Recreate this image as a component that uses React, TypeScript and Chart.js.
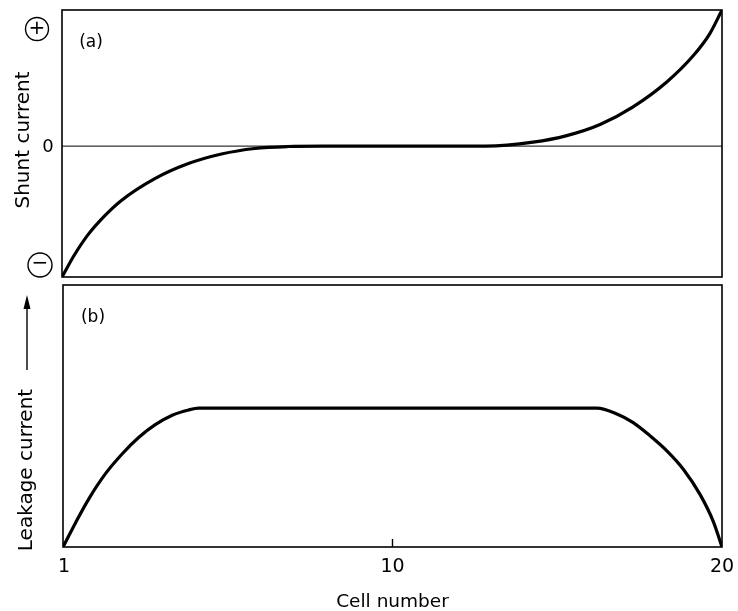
import React, { useEffect, useRef } from 'react';
import { Chart, registerables } from 'chart.js';

Chart.register(...registerables);

// Panel (a): shunt current vs cell number (schematic, -1 .. +1)
const shuntCells = [1, 1.36, 1.74, 2.22, 2.71, 3.66, 4.62, 5.59, 6.55, 7.5, 8.5, 13.2, 14.56, 15.53, 16.49, 17.44, 18.41, 19.17, 19.65, 20];
const shuntValues = [-1, -0.83, -0.68, -0.535, -0.415, -0.25, -0.135, -0.06, -0.018, -0.003, 0, 0, 0.03, 0.08, 0.165, 0.3, 0.49, 0.69, 0.86, 1.04];

// Panel (b): leakage current vs cell number (schematic, 0 .. 1)
const leakCells = [1, 1.36, 1.74, 2.22, 2.71, 3.18, 3.66, 4.15, 4.62, 4.91, 16.39, 16.97, 17.44, 17.92, 18.41, 18.89, 19.37, 19.75, 20];
const leakValues = [0, 0.092, 0.183, 0.279, 0.356, 0.418, 0.467, 0.503, 0.523, 0.53, 0.53, 0.508, 0.475, 0.425, 0.367, 0.296, 0.2, 0.097, 0];

// x axis ticks (the "10" sits at the middle of the schematic axis)
const xTickValues = [1, 10.5, 20];
const xTickLabels = ['1', '10', '20'];

const shuntSignLabels = ['+', '0', '−'];
const panelLabels = ['(a)', '(b)'];
const shuntTitle = 'Shunt current';
const leakTitle = 'Leakage current';
const xTitle = 'Cell number';

const FONT = '"DejaVu Sans", "Liberation Sans", sans-serif';

const panelAPlugin = {
  id: 'panelA',
  beforeDatasetsDraw(chart: any) {
    const { ctx, chartArea, scales } = chart;
    const y0 = scales.y.getPixelForValue(0);
    ctx.save();
    ctx.strokeStyle = '#000';
    ctx.lineWidth = 1;
    ctx.beginPath();
    ctx.moveTo(chartArea.left, y0);
    ctx.lineTo(chartArea.right, y0);
    ctx.stroke();
    ctx.restore();
  },
  afterDraw(chart: any) {
    const { ctx, chartArea, scales } = chart;
    ctx.save();
    ctx.strokeStyle = '#000';
    ctx.fillStyle = '#000';
    ctx.lineWidth = 1.6;
    ctx.strokeRect(chartArea.left, chartArea.top, chartArea.right - chartArea.left, chartArea.bottom - chartArea.top);

    // sign markers
    const yTop = scales.y.getPixelForValue(scales.y.max);
    const yZero = scales.y.getPixelForValue(0);
    const yBot = scales.y.getPixelForValue(scales.y.min);
    ctx.lineWidth = 1.4;
    ctx.beginPath();
    ctx.arc(37, yTop + 19, 11.5, 0, Math.PI * 2);
    ctx.stroke();
    ctx.beginPath();
    ctx.arc(40, yBot - 12, 12, 0, Math.PI * 2);
    ctx.stroke();
    ctx.textAlign = 'center';
    ctx.textBaseline = 'middle';
    ctx.font = `20px ${FONT}`;
    ctx.fillText(shuntSignLabels[0], 37, yTop + 19);
    ctx.fillText(shuntSignLabels[2], 40, yBot - 13);
    ctx.font = `18px ${FONT}`;
    ctx.fillText(shuntSignLabels[1], 48, yZero + 1);

    // panel label
    ctx.font = `17px ${FONT}`;
    ctx.fillText(panelLabels[0], 91, 43);

    // axis title
    ctx.save();
    ctx.translate(24, 140);
    ctx.rotate(-Math.PI / 2);
    ctx.font = `20px ${FONT}`;
    ctx.fillText(shuntTitle, 0, 0);
    ctx.restore();
    ctx.restore();
  },
};

const panelBPlugin = {
  id: 'panelB',
  afterDraw(chart: any) {
    const { ctx, chartArea, scales } = chart;
    ctx.save();
    ctx.strokeStyle = '#000';
    ctx.fillStyle = '#000';
    ctx.lineWidth = 1.6;
    ctx.strokeRect(chartArea.left, chartArea.top, chartArea.right - chartArea.left, chartArea.bottom - chartArea.top);

    ctx.textAlign = 'center';
    ctx.textBaseline = 'middle';
    ctx.font = `17px ${FONT}`;
    ctx.fillText(panelLabels[1], 93, chartArea.top + 33);

    // y title with arrow
    ctx.save();
    ctx.translate(27, 188);
    ctx.rotate(-Math.PI / 2);
    ctx.font = `20px ${FONT}`;
    ctx.fillText(leakTitle, 0, 0);
    ctx.restore();

    ctx.lineWidth = 1.4;
    ctx.beginPath();
    ctx.moveTo(27, 88);
    ctx.lineTo(27, 22);
    ctx.stroke();
    ctx.beginPath();
    ctx.moveTo(27, 13);
    ctx.lineTo(23.5, 27);
    ctx.lineTo(30.5, 27);
    ctx.closePath();
    ctx.fill();

    // x ticks
    ctx.textBaseline = 'alphabetic';
    ctx.font = `19px ${FONT}`;
    xTickValues.forEach((v, i) => {
      const px = scales.x.getPixelForValue(v);
      ctx.fillText(xTickLabels[i], px + (i === 0 ? 1 : 0), chartArea.bottom + 25);
      if (i > 0 && i < xTickValues.length - 1) {
        ctx.lineWidth = 1.4;
        ctx.beginPath();
        ctx.moveTo(px, chartArea.bottom);
        ctx.lineTo(px, chartArea.bottom - 8);
        ctx.stroke();
      }
    });
    ctx.font = `18.5px ${FONT}`;
    ctx.fillText(xTitle, (chartArea.left + chartArea.right) / 2, chartArea.bottom + 60);
    ctx.restore();
  },
};

function makeConfig(cells: number[], values: number[], yMin: number, yMax: number, padding: any, plugin: any): any {
  return {
    type: 'line',
    data: {
      datasets: [
        {
          data: cells.map((x, i) => ({ x, y: values[i] })),
          borderColor: '#000',
          borderWidth: 3.2,
          pointRadius: 0,
          fill: false,
          cubicInterpolationMode: 'monotone',
          borderCapStyle: 'round',
          borderJoinStyle: 'round',
        },
      ],
    },
    options: {
      responsive: false,
      animation: false,
      layout: { padding },
      scales: {
        x: { type: 'linear', min: 1, max: 20, display: false },
        y: { type: 'linear', min: yMin, max: yMax, display: false },
      },
      plugins: { legend: { display: false }, tooltip: { enabled: false } },
    },
    plugins: [plugin],
  };
}

export default function App() {
  const refA = useRef<HTMLCanvasElement>(null);
  const refB = useRef<HTMLCanvasElement>(null);

  useEffect(() => {
    const a = new Chart(refA.current as HTMLCanvasElement, makeConfig(shuntCells, shuntValues, -1, 1.04, { left: 62, right: 16, top: 10, bottom: 5 }, panelAPlugin));
    const b = new Chart(refB.current as HTMLCanvasElement, makeConfig(leakCells, leakValues, 0, 1, { left: 63, right: 16, top: 3, bottom: 64 }, panelBPlugin));
    return () => {
      a.destroy();
      b.destroy();
    };
  }, []);

  return (
    <div style={{ position: 'absolute', left: 0, top: 0, width: 738, height: 611, background: '#fff' }}>
      <canvas ref={refA} width={738} height={282} style={{ position: 'absolute', left: 0, top: 0, display: 'block' }} />
      <canvas ref={refB} width={738} height={329} style={{ position: 'absolute', left: 0, top: 282, display: 'block' }} />
    </div>
  );
}
